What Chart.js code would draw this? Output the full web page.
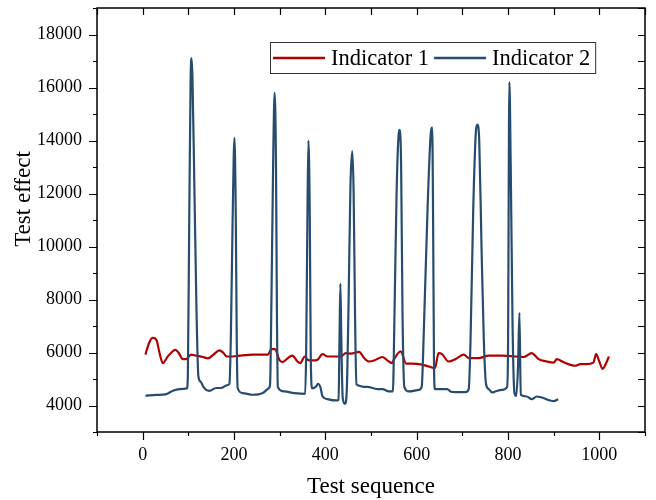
<!DOCTYPE html>
<html lang="en">
<head>
<meta charset="UTF-8">
<title>Test effect</title>
<script src="https://cdn.jsdelivr.net/npm/chart.js"></script>
<style>
  body { margin: 0; background: #fff; }
  #wrap { width: 656px; height: 500px; }
</style>
</head>
<body>
<div id="wrap"><canvas id="grafico" width="656" height="500"></canvas></div>
<script>
// Indicator 1 (red)
const ind1X = [6, 14, 22, 30, 37, 44, 55, 72, 79, 88, 95, 106, 117, 132, 143, 155, 168, 177, 184, 197,
  212, 241, 274, 282, 290, 299, 306, 321, 328, 339, 345, 355, 361, 372, 383, 394, 405, 434, 445, 456,
  474, 485, 496, 507, 525, 536, 546, 550, 565, 577, 590, 612, 627, 640, 648, 655, 670, 685, 703, 714,
  736, 758, 787, 816, 834, 852, 867, 885, 900, 907, 921, 947, 958, 972, 987, 993, 1000, 1007, 1015, 1021];
const ind1Y = [5920, 6360, 6550, 6480, 5980, 5600, 5850, 6100, 5980, 5750, 5750, 5920, 5880, 5830, 5780, 5920, 6080, 5980, 5850, 5850,
  5880, 5920, 5920, 6130, 6130, 5730, 5640, 5830, 5880, 5660, 5600, 5850, 5730, 5700, 5730, 5940, 5850, 5850, 5980, 5960,
  6020, 5790, 5660, 5700, 5830, 5700, 5600, 5730, 6040, 5580, 5580, 5540, 5470, 5410, 5980, 5950, 5660, 5750, 5920, 5790,
  5790, 5880, 5880, 5850, 5830, 5980, 5750, 5660, 5620, 5750, 5640, 5500, 5560, 5560, 5620, 5940, 5660, 5380, 5600, 5850];

// Indicator 2 (blue)
const ind2X = [6, 30, 52, 66, 81, 97, 99, 102, 105, 107, 109, 113, 118, 122, 127, 133, 139, 146, 161, 172,
  184, 190, 193, 197, 201, 204, 206, 208, 219, 241, 263, 276, 279, 282, 286, 289, 292, 294, 296, 310,
  332, 356, 358, 361, 363, 366, 368, 371, 379, 384, 389, 394, 405, 423, 429, 431, 433, 435, 438, 443,
  447, 451, 455, 459, 462, 465, 468, 492, 514, 525, 539, 548, 551, 556, 560, 563, 566, 569, 573, 583,
  605, 611, 616, 624, 631, 634, 636, 638, 640, 667, 674, 685, 707, 714, 718, 724, 730, 733, 737, 742,
  747, 752, 758, 765, 772, 787, 798, 800, 803, 806, 810, 814, 818, 822, 825, 828, 841, 852, 863, 874,
  892, 900, 910];
const ind2Y = [4370, 4400, 4430, 4560, 4620, 4645, 5200, 11000, 16300, 17100, 16400, 12500, 7500, 5100, 4900, 4700, 4590, 4555, 4660, 4660,
  4760, 4820, 6500, 11000, 14100, 11000, 6500, 4660, 4470, 4405, 4470, 4650, 4800, 8000, 13500, 15800, 13000, 7500, 4700, 4530,
  4470, 4440, 6000, 11500, 14000, 11000, 6000, 4650, 4700, 4820, 4700, 4340, 4240, 4190, 4215, 6500, 8600, 6500, 4300, 4060,
  4600, 8000, 12300, 13600, 12000, 7500, 4800, 4700, 4620, 4620, 4530, 4530, 7000, 12000, 14100, 14400, 13000, 7500, 4700, 4530,
  4590, 4700, 7000, 11500, 14300, 14500, 11000, 5500, 4620, 4620, 4530, 4505, 4505, 4620, 6500, 11500, 14400, 14600, 14000, 10000,
  6500, 4800, 4620, 4490, 4530, 4590, 4700, 6000, 16200, 13000, 7000, 4500, 4360, 5500, 7500, 4400, 4340, 4240, 4340, 4300,
  4190, 4165, 4240];

const xTicks = [0, 200, 400, 600, 800, 1000];
const yTicks = [4000, 6000, 8000, 10000, 12000, 14000, 16000, 18000];
const xTitle = 'Test sequence';
const yTitle = 'Test effect';

const fuente = 'Liberation Serif, Times New Roman, serif';

// marco, ticks, títulos y leyenda
const marcoPlugin = {
  id: 'marco',
  afterDatasetsDraw(chart) {
    const { ctx, chartArea: a, scales: { x, y } } = chart;
    ctx.save();
    ctx.strokeStyle = '#000';
    ctx.lineWidth = 1.5;
    ctx.strokeRect(a.left, a.top, a.right - a.left, a.bottom - a.top);
    ctx.lineWidth = 1.2;
    ctx.beginPath();
    for (let v = x.min; v <= x.max; v += 100) {
      const px = Math.round(x.getPixelForValue(v)) + 0.5;
      const mayor = xTicks.includes(v);
      ctx.moveTo(px, a.bottom); ctx.lineTo(px, a.bottom + (mayor ? 8 : 4));
      ctx.moveTo(px, a.top); ctx.lineTo(px, a.top + 7);
    }
    for (let v = y.min; v <= y.max; v += 1000) {
      const py = Math.round(y.getPixelForValue(v)) + 0.5;
      const mayor = yTicks.includes(v);
      ctx.moveTo(a.left, py); ctx.lineTo(a.left - (mayor ? 8 : 4), py);
      ctx.moveTo(a.right, py); ctx.lineTo(a.right - 7, py);
    }
    ctx.stroke();

    // títulos de ejes
    ctx.fillStyle = '#000';
    ctx.font = '23px ' + fuente;
    ctx.textAlign = 'center';
    ctx.textBaseline = 'middle';
    ctx.fillText(xTitle, (a.left + a.right) / 2, 487);
    ctx.translate(24, 199);
    ctx.rotate(-Math.PI / 2);
    ctx.fillText(yTitle, 0, 0);
    ctx.restore();

    // leyenda
    ctx.save();
    ctx.font = '22.5px ' + fuente;
    const bx = 270, by = 42, bh = 31;
    let cx = bx + 3;
    const items = chart.data.datasets.map(d => ({ label: d.label, color: d.borderColor, w: ctx.measureText(d.label).width }));
    let total = 3;
    items.forEach(it => { total += 52 + 6 + it.w + 5; });
    ctx.fillStyle = '#fff';
    ctx.fillRect(bx, by, total, bh);
    ctx.strokeStyle = '#333';
    ctx.lineWidth = 1;
    ctx.strokeRect(bx + 0.5, by + 0.5, total, bh);
    ctx.textAlign = 'left';
    ctx.textBaseline = 'middle';
    items.forEach(it => {
      ctx.strokeStyle = it.color;
      ctx.lineWidth = 2.5;
      ctx.beginPath();
      ctx.moveTo(cx, by + 16); ctx.lineTo(cx + 52, by + 16);
      ctx.stroke();
      cx += 58;
      ctx.fillStyle = '#000';
      ctx.fillText(it.label, cx, by + 17);
      cx += it.w + 5;
    });
    ctx.restore();
  }
};

const sinPadding = s => { s.paddingTop = 0; s.paddingBottom = 0; s.paddingLeft = 0; s.paddingRight = 0; };

const ctx = document.getElementById('grafico').getContext('2d');
const grafico = new Chart(ctx, {
  type: 'line',
  data: {
    datasets: [{
      label: 'Indicator 1',
      data: ind1X.map((v, i) => ({ x: v, y: ind1Y[i] })),
      borderColor: '#b00000',
      borderWidth: 2.2,
      pointRadius: 0,
      cubicInterpolationMode: 'monotone',
      order: 1
    }, {
      label: 'Indicator 2',
      data: ind2X.map((v, i) => ({ x: v, y: ind2Y[i] })),
      borderColor: '#274c70',
      borderWidth: 2.2,
      pointRadius: 0,
      cubicInterpolationMode: 'monotone',
      order: 0
    }]
  },
  options: {
    responsive: false,
    animation: false,
    layout: { padding: { top: 8, right: 11, left: 0, bottom: 0 } },
    plugins: { legend: { display: false }, tooltip: { enabled: false } },
    scales: {
      x: {
        type: 'linear',
        min: -100,
        max: 1100,
        afterBuildTicks: s => { s.ticks = xTicks.map(v => ({ value: v })); },
        afterFit: s => { s.height = 68; sinPadding(s); },
        grid: { display: false, drawTicks: false },
        border: { display: false },
        ticks: { font: { family: fuente, size: 18 }, color: '#000', padding: 12, maxRotation: 0, autoSkip: false, callback: v => String(v) }
      },
      y: {
        min: 3000,
        max: 19000,
        afterBuildTicks: s => { s.ticks = yTicks.map(v => ({ value: v })); },
        afterFit: s => { s.width = 97; sinPadding(s); },
        grid: { display: false, drawTicks: false },
        border: { display: false },
        ticks: { font: { family: fuente, size: 18 }, color: '#000', padding: 15, autoSkip: false, callback: v => String(v) }
      }
    }
  },
  plugins: [marcoPlugin]
});
</script>
</body>
</html>
